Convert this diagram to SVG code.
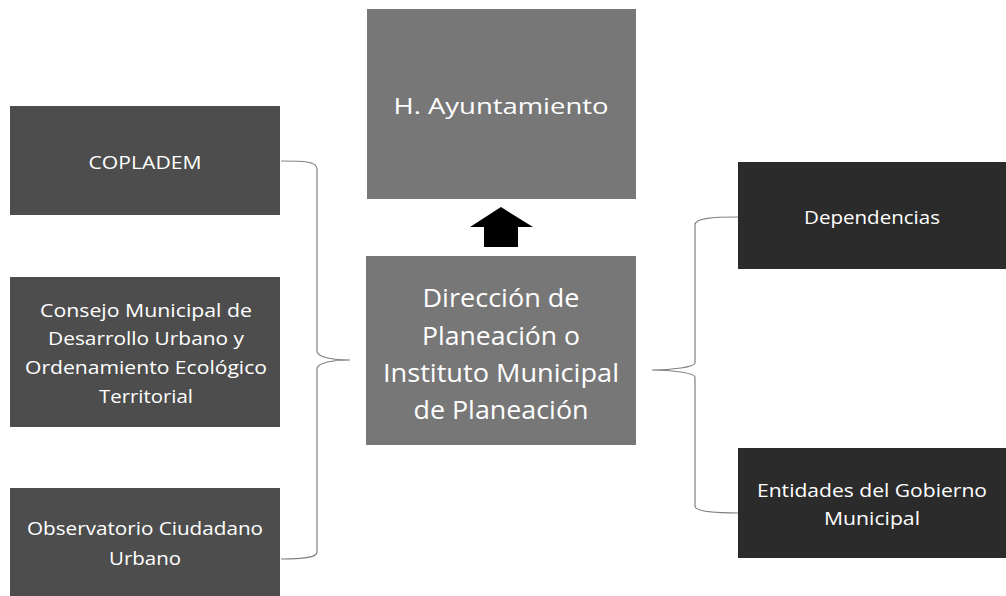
<svg xmlns="http://www.w3.org/2000/svg" width="1006" height="596" viewBox="0 0 1006 596">
<style>
.l{fill:#4d4d4d}
.c{fill:#777777}
.r{fill:#2b2b2b}
text{font-family:"Open Sans","Noto Sans",sans-serif;fill:#ffffff;text-anchor:middle}
.s{font-size:18px}
.m{font-size:22px}
.b{font-size:25px}
.br{fill:none;stroke:#808080;stroke-width:1.2}
</style>
<rect width="1006" height="596" fill="#ffffff"/>
<g id="connectors">
<path class="br" d="M281,161 C302,161 317,161 317,169 L317,351 C317,357 332,360 350,360 C332,360 317,363 317,369 L317,552 C317,558 302,559 281,559"/>
<path class="br" d="M738,217 C713,217 695,218 695,225 L695,363 C695,367 672,370 652,370 C672,370 695,373 695,377 L695,506 C695,511 713,513 738,513"/>
<polygon points="501,207 533,227 518,227 518,247 484,247 484,227 470,227" fill="#000000"/>
</g>
<g id="ayuntamiento">
<rect class="c" x="367" y="9" width="269" height="190"/>
<text class="m" x="501" y="114" textLength="215" lengthAdjust="spacingAndGlyphs">H. Ayuntamiento</text>
</g>
<g id="direccion">
<rect class="c" x="366" y="256" width="270" height="189"/>
<text class="b" x="501" y="307" textLength="157" lengthAdjust="spacingAndGlyphs">Dirección de</text>
<text class="b" x="501" y="345" textLength="158" lengthAdjust="spacingAndGlyphs">Planeación o</text>
<text class="b" x="501" y="382" textLength="236" lengthAdjust="spacingAndGlyphs">Instituto Municipal</text>
<text class="b" x="501" y="419" textLength="175" lengthAdjust="spacingAndGlyphs">de Planeación</text>
</g>
<g id="copladem">
<rect class="l" x="10" y="106" width="270" height="109"/>
<text class="s" x="145" y="169" textLength="113" lengthAdjust="spacingAndGlyphs">COPLADEM</text>
</g>
<g id="consejo">
<rect class="l" x="10" y="277" width="270" height="150"/>
<text class="s" x="146" y="317" textLength="212" lengthAdjust="spacingAndGlyphs">Consejo Municipal de</text>
<text class="s" x="146" y="345" textLength="196" lengthAdjust="spacingAndGlyphs">Desarrollo Urbano y</text>
<text class="s" x="146" y="374" textLength="242" lengthAdjust="spacingAndGlyphs">Ordenamiento Ecológico</text>
<text class="s" x="146" y="403" textLength="94" lengthAdjust="spacingAndGlyphs">Territorial</text>
</g>
<g id="observatorio">
<rect class="l" x="10" y="488" width="270" height="108"/>
<text class="s" x="145" y="535" textLength="236" lengthAdjust="spacingAndGlyphs">Observatorio Ciudadano</text>
<text class="s" x="145" y="565" textLength="72" lengthAdjust="spacingAndGlyphs">Urbano</text>
</g>
<g id="dependencias">
<rect class="r" x="738" y="162" width="268" height="107"/>
<text class="s" x="872" y="224" textLength="136" lengthAdjust="spacingAndGlyphs">Dependencias</text>
</g>
<g id="entidades">
<rect class="r" x="738" y="448" width="268" height="110"/>
<text class="s" x="872" y="497" textLength="230" lengthAdjust="spacingAndGlyphs">Entidades del Gobierno</text>
<text class="s" x="872" y="525" textLength="96" lengthAdjust="spacingAndGlyphs">Municipal</text>
</g>
</svg>
